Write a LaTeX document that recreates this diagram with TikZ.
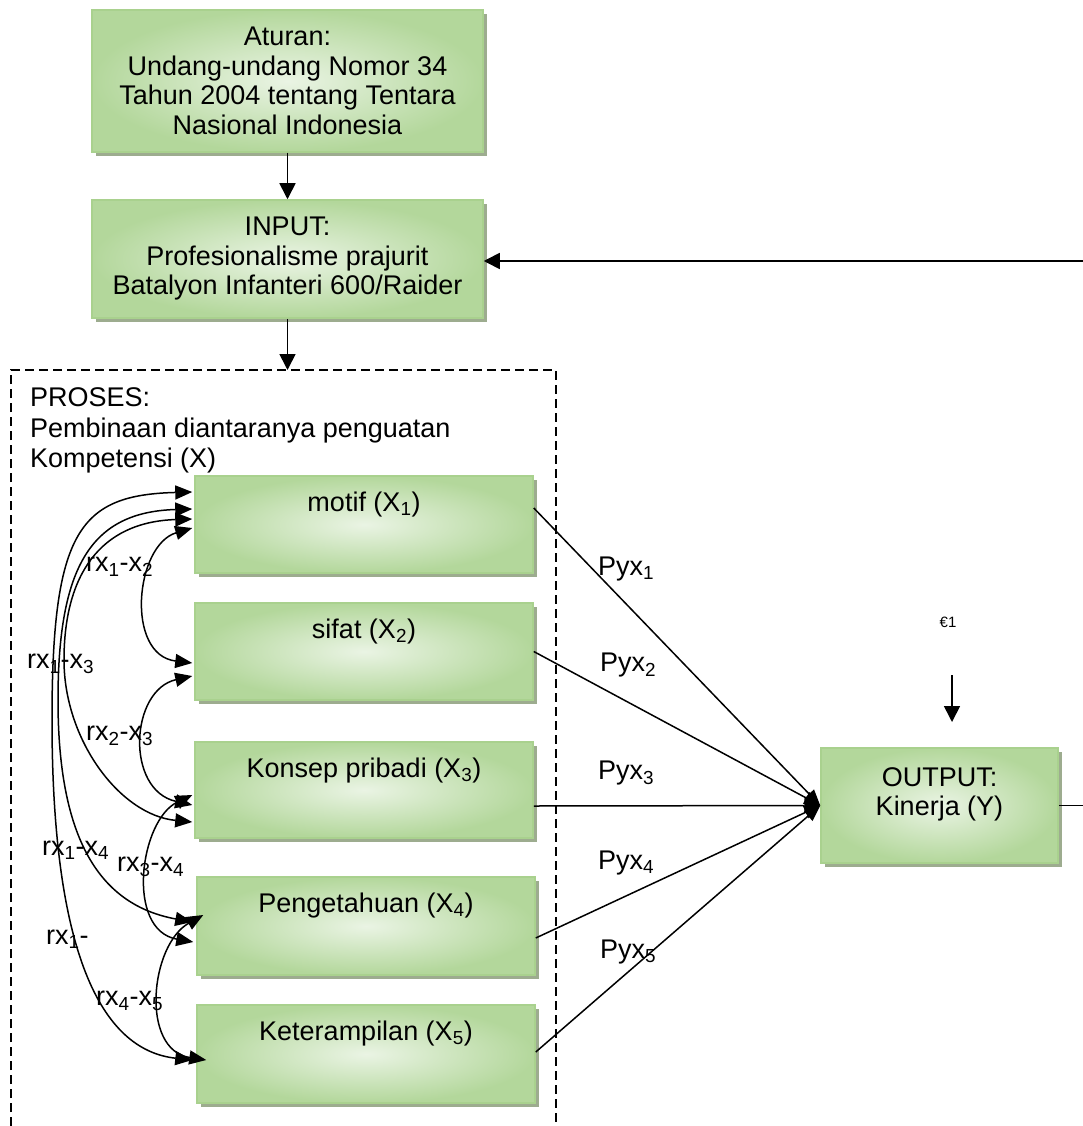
\documentclass[tikz,border=0pt]{standalone}
\usepackage{fontspec}
\setmainfont{Liberation Sans}
\usetikzlibrary{arrows.meta,shadows}
\definecolor{gL}{HTML}{EAF4E4}
\definecolor{gD}{HTML}{B3D79B}
\definecolor{gB}{HTML}{A9D18E}
\definecolor{gS}{HTML}{9DAC8F}
\tikzset{
  gbox/.style={draw=gB, line width=1.5pt, inner color=gL, outer color=gD,
    drop shadow={shadow xshift=4pt, shadow yshift=-4pt, fill=gS, opacity=1},
    inner sep=0pt, align=center, font=\fontsize{27}{29.5}\selectfont},
  ibox/.style={gbox, minimum width=338pt, text height=25pt, inner ysep=10pt},
  arr/.style={-{Triangle[width=16pt,length=16pt]}, line width=1.7pt},
  parr/.style={-{Triangle[width=13pt,length=16pt]}, line width=1.5pt},
  corr/.style={{Triangle[width=14pt,length=17pt]}-{Triangle[width=14pt,length=17pt]}, line width=1.5pt},
  frame/.style={line width=1.6pt, dash pattern=on 9pt off 5pt},
  lbl/.style={inner sep=0pt, anchor=west, font=\fontsize{27}{30}\selectfont},
}
\begin{document}
\begin{tikzpicture}[x=1pt,y=-1pt]
\useasboundingbox (0,0) rectangle (1083,1126);

% top boxes
\node[gbox, minimum width=391pt, minimum height=142pt] (at) at (287.5,81)
  {Aturan:\\Undang-undang Nomor 34\\Tahun 2004 tentang Tentara\\Nasional Indonesia};
\node[gbox, minimum width=391pt, minimum height=118pt] (inp) at (287.5,259)
  {INPUT:\\Profesionalisme prajurit\\Batalyon Infanteri 600/Raider};

% process frame
\coordinate (procTop) at (287.5,370);
\draw[frame] (11,1126) -- (11,370) -- (556,370) -- (556,1126);
\node[inner sep=0pt, anchor=north west, align=left, font=\fontsize{27}{30.5}\selectfont] (proc) at (30,387.5)
  {PROSES:\\Pembinaan diantaranya penguatan\\Kompetensi (X)};

% inner boxes
\node[ibox, text depth=52pt] (m1) at (364,524.5) {motif (X\textsubscript{1})};
\node[ibox, text depth=52pt] (m2) at (364,651.5) {sifat (X\textsubscript{2})};
\node[ibox, text depth=51pt] (m3) at (364,790) {Konsep pribadi (X\textsubscript{3})};
\node[ibox, text depth=53pt] (m4) at (366,926) {Pengetahuan (X\textsubscript{4})};
\node[ibox, text depth=53pt] (m5) at (366,1054) {Keterampilan (X\textsubscript{5})};

% output
\node[gbox, minimum width=237pt, text height=57.5pt, text depth=37.5pt, inner ysep=10pt] (out) at (939.5,805.5)
  {OUTPUT:\\Kinerja (Y)};

% main flow arrows
\draw[arr] (at.south) -- (inp.north);
\draw[arr] (inp.south) -- (inp.south |- procTop);
\coordinate (fbR) at (1083,261);
\draw[arr] (fbR) -- (fbR -| inp.east);
\coordinate (outR) at (1083,806);
\draw[line width=1.7pt] (out.east) -- (out.east -| outR);

% epsilon
\node[inner sep=0pt, font=\fontsize{15}{17}\selectfont] (eps) at (948,622) {€1};
\coordinate (eTop) at (952,675);
\coordinate (eTip) at (952,722);
\draw[arr] (eTop) -- (eTip);

% path arrows
\draw[parr] ([yshift=16.5pt]m1.east) -- (out.west);
\draw[parr] (m2.east) -- (out.west);
\draw[parr] ([yshift=-16pt]m3.east) -- (out.west);
\draw[parr] ([yshift=-12pt]m4.east) -- (out.west);
\draw[parr] ([yshift=2pt]m5.east) -- (out.west);

\node[lbl] (p1) at (598,569) {Pyx\textsubscript{1}};
\node[lbl] (p2) at (600,665) {Pyx\textsubscript{2}};
\node[lbl] (p3) at (598,773) {Pyx\textsubscript{3}};
\node[lbl] (p4) at (598,863) {Pyx\textsubscript{4}};
\node[lbl] (p5) at (600,952) {Pyx\textsubscript{5}};

% correlation curves
\draw[corr] ([xshift=-2pt,yshift=32.5pt]m1.west) .. controls (80,495) and (52,530) .. (52,720)
  .. controls (52,950) and (100,1050) .. ([xshift=-4pt,yshift=-6pt]m5.west);
\draw[corr] ([xshift=-2pt,yshift=15.5pt]m1.west) .. controls (92,512) and (58,565) .. (58,700)
  .. controls (58,840) and (100,905) .. ([xshift=-4pt,yshift=4pt]m4.west);
\draw[corr] ([xshift=-2pt,yshift=5.5pt]m1.west) .. controls (100,522) and (64,575) .. (64,660)
  .. controls (64,740) and (120,815) .. ([xshift=-2pt,yshift=-32pt]m3.west);
\draw[corr] ([xshift=-2pt,yshift=-3.5pt]m1.west) .. controls (135,545) and (125,655) .. ([xshift=-2pt,yshift=-11.5pt]m2.west);
\draw[corr] ([xshift=-2pt,yshift=-24.5pt]m2.west) .. controls (130,690) and (125,790) .. ([xshift=-2pt,yshift=-15pt]m3.west);
\draw[corr] ([xshift=-2pt,yshift=-5pt]m3.west) .. controls (140,820) and (125,930) .. ([xshift=-3pt,yshift=-16pt]m4.west);
\draw[corr] ([xshift=7pt,yshift=11pt]m4.west) .. controls (150,945) and (140,1050) .. ([xshift=10pt,yshift=-6pt]m5.west);

\node[lbl] (r12) at (86,567) {rx\textsubscript{1}-x\textsubscript{2}};
\node[lbl] (r13) at (27,664) {rx\textsubscript{1}-x\textsubscript{3}};
\node[lbl] (r23) at (86,736) {rx\textsubscript{2}-x\textsubscript{3}};
\node[lbl] (r14) at (42,850) {rx\textsubscript{1}-x\textsubscript{4}};
\node[lbl] (r34) at (117,867) {rx\textsubscript{3}-x\textsubscript{4}};
\node[lbl] (r15) at (46,939) {rx\textsubscript{1}-};
\node[lbl] (r45) at (96,1001) {rx\textsubscript{4}-x\textsubscript{5}};
\end{tikzpicture}
\end{document}
